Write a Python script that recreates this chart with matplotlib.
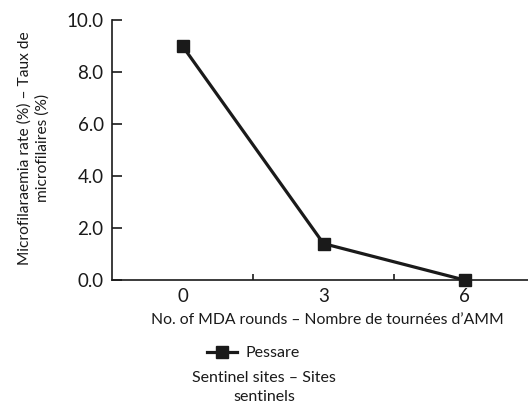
import matplotlib
matplotlib.use("Agg")
import matplotlib.pyplot as plt
from matplotlib.ticker import FixedLocator

plt.rcParams['font.family'] = ['Lato', 'DejaVu Sans']

categories = ["0", "3", "6"]
values = [9.0, 1.4, 0.0]
series_name = "Pessare"
yticks = [0.0, 2.0, 4.0, 6.0, 8.0, 10.0]

W, H = 528, 409
fig = plt.figure(figsize=(W/100, H/100), dpi=100)
ax = fig.add_axes([112/W, 1-280/H, (535-112)/W, 260/H])

color = "#1a1a1a"
x = list(range(len(categories)))
line, = ax.plot(x, values, color=color, lw=2.3, marker='s', ms=8,
                markerfacecolor=color, markeredgecolor=color, clip_on=False, zorder=5)

ax.set_xlim(-0.5, len(categories) - 0.5)
ax.set_ylim(0, 10)
ax.set_yticks(yticks)
ax.set_yticklabels([f"{v:.1f}" for v in yticks])
ax.set_xticks(x)
ax.set_xticklabels(categories)
ax.xaxis.set_minor_locator(FixedLocator([i + 0.5 for i in x[:-1]]))

for s in ['top', 'right']:
    ax.spines[s].set_visible(False)
for s in ['left', 'bottom']:
    ax.spines[s].set_linewidth(1.2)
    ax.spines[s].set_color(color)

ax.tick_params(axis='y', direction='in', length=7.5, width=1.2, color=color,
               labelsize=13.5, pad=6, labelcolor=color)
ax.tick_params(axis='x', which='major', length=0, labelsize=13.5, pad=6, labelcolor=color)
ax.tick_params(axis='x', which='minor', direction='in', length=4.5, width=1.2, color=color)

ax.set_xlabel("No. of MDA rounds \u2013 Nombre de tourn\u00e9es d\u2019AMM", fontsize=11.3,
              color=color)
ax.xaxis.set_label_coords((327-112)/(535-112), -(313-280)/260)
ax.xaxis.label.set_va('top')
ax.set_ylabel("Microfilaraemia rate (%) \u2013 Taux de\nmicrofilaires (%)", fontsize=11.2,
              color=color, linespacing=1.35, multialignment='center')
ax.yaxis.set_label_coords(-(112-50)/(535-112), (280-148)/260)

fig.legend([line], [series_name], loc='center', bbox_to_anchor=(253/W, 1-353/H),
           frameon=False, fontsize=11.5, handlelength=1.9, handletextpad=0.5,
           borderpad=0, labelcolor=color)
fig.text(264/W, 1-387.5/H, "Sentinel sites \u2013 Sites\nsentinels", ha='center', va='center',
         multialignment='center', fontsize=11.5, color=color, linespacing=1.45)

fig.savefig("out.png", dpi=100)
